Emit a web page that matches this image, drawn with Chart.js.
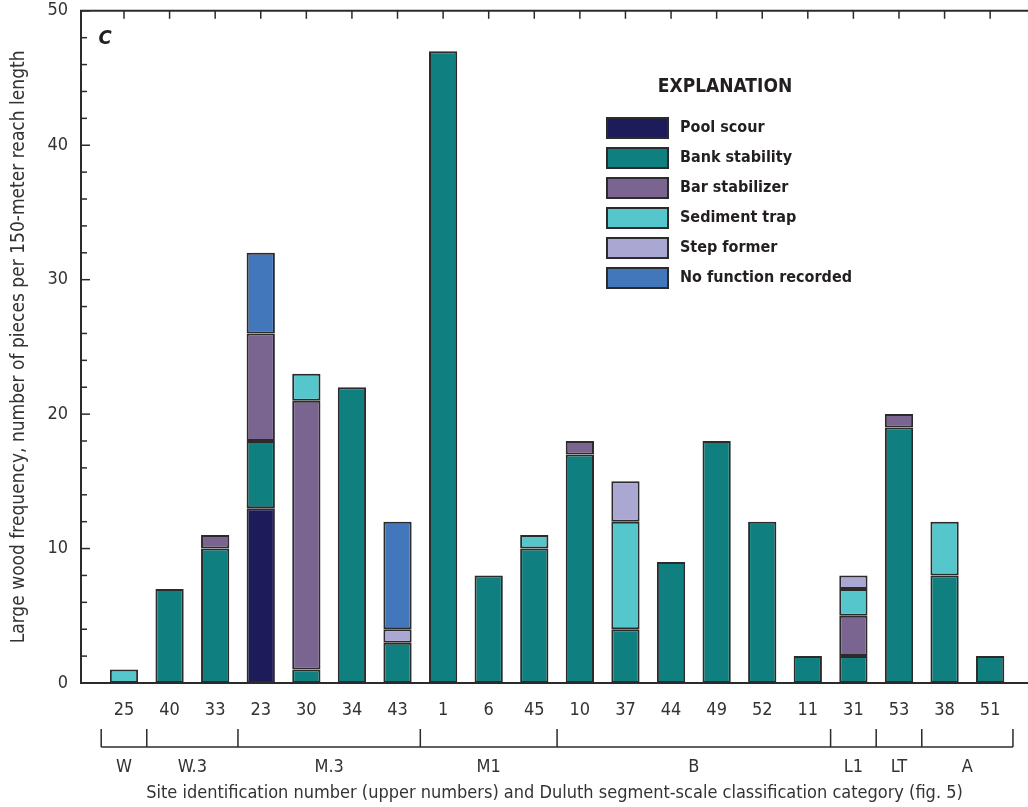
<!DOCTYPE html>
<html>
<head>
<meta charset="utf-8">
<script src="https://cdn.jsdelivr.net/npm/chart.js@4.4.1/dist/chart.umd.min.js"></script>
<style>
body { margin: 0; background: #fff; }
#wrap { width: 1028px; height: 807px; position: relative; }
</style>
</head>
<body>
<div id="wrap"><canvas id="c"></canvas></div>
<script>
// site ids (upper numbers) and Duluth segment-scale categories
var sites = ['25', '40', '33', '23', '30', '34', '43', '1', '6', '45', '10', '37', '44', '49', '52', '11', '31', '53', '38', '51'];
var groups = ['W', 'W.3', 'M.3', 'M1', 'B', 'L1', 'LT', 'A'];
var groupSizes = [1, 2, 4, 3, 6, 1, 1, 2];

// pieces per 150-meter reach, by function
var poolScour  = [0, 0, 0, 13, 0, 0, 0, 0, 0, 0, 0, 0, 0, 0, 0, 0, 0, 0, 0, 0];
var bankStab   = [0, 7, 10, 5, 1, 22, 3, 47, 8, 10, 17, 4, 9, 18, 12, 2, 2, 19, 8, 2];
var barStab    = [0, 0, 1, 8, 20, 0, 0, 0, 0, 0, 1, 0, 0, 0, 0, 0, 3, 1, 0, 0];
var sedTrap    = [1, 0, 0, 0, 2, 0, 0, 0, 0, 1, 0, 8, 0, 0, 0, 0, 2, 0, 4, 0];
var stepFormer = [0, 0, 0, 0, 0, 0, 1, 0, 0, 0, 0, 3, 0, 0, 0, 0, 1, 0, 0, 0];
var noFunction = [0, 0, 0, 6, 0, 0, 8, 0, 0, 0, 0, 0, 0, 0, 0, 0, 0, 0, 0, 0];

var FONT = "'Liberation Sans Narrow', 'DejaVu Sans Condensed', 'Liberation Sans', sans-serif";
var ink = '#2b2b2b';
var txt = '#333333';

function pts(arr) {
    return arr.map(function (v, i) { return { x: i + 1, y: v === 0 ? null : v }; });
}

function ds(label, arr, color) {
    return {
        label: label,
        data: pts(arr),
        backgroundColor: color,
        borderColor: ink,
        borderWidth: 2,
        borderSkipped: false,
        categoryPercentage: 1,
        barPercentage: 0.62
    };
}

var data = {
    datasets: [
        ds('Pool scour', poolScour, '#1e1b5a'),
        ds('Bank stability', bankStab, '#0f7f7f'),
        ds('Bar stabilizer', barStab, '#7a6490'),
        ds('Sediment trap', sedTrap, '#55c6cc'),
        ds('Step former', stepFormer, '#aaa8d2'),
        ds('No function recorded', noFunction, '#4377bc')
    ]
};

// frame ticks, category brackets, explanation box
var extras = {
    id: 'extras',
    afterDraw: function (chart) {
        var ctx = chart.ctx, x = chart.scales.x, y = chart.scales.y, a = chart.chartArea;
        ctx.save();
        ctx.strokeStyle = ink;
        ctx.lineWidth = 2;
        ctx.beginPath();
        ctx.moveTo(a.left - 1, a.top);
        ctx.lineTo(a.right, a.top);
        ctx.stroke();

        ctx.lineWidth = 1.5;
        sites.forEach(function (s, i) {
            var px = x.getPixelForValue(i + 1);
            ctx.beginPath();
            ctx.moveTo(px, a.top);
            ctx.lineTo(px, a.top + 8);
            ctx.stroke();
        });
        for (var v = 0; v <= 50; v += 2) {
            var py = y.getPixelForValue(v);
            var len = v % 10 === 0 ? 9 : 6;
            ctx.beginPath();
            ctx.moveTo(a.left, py);
            ctx.lineTo(a.left + len, py);
            ctx.stroke();
        }

        // brackets
        var lineY = a.bottom + 64, tickTop = a.bottom + 46;
        ctx.beginPath();
        ctx.moveTo(x.getPixelForValue(0.5), lineY);
        ctx.lineTo(x.getPixelForValue(sites.length + 0.5), lineY);
        ctx.stroke();
        ctx.fillStyle = txt;
        ctx.font = '18px ' + FONT;
        ctx.textAlign = 'center';
        ctx.textBaseline = 'middle';
        var pos = 0.5;
        ctx.beginPath();
        ctx.moveTo(x.getPixelForValue(pos), tickTop);
        ctx.lineTo(x.getPixelForValue(pos), lineY);
        groups.forEach(function (g, i) {
            var end = pos + groupSizes[i];
            var px = x.getPixelForValue(end);
            ctx.moveTo(px, tickTop);
            ctx.lineTo(px, lineY);
            ctx.fillText(g, x.getPixelForValue((pos + end) / 2), a.bottom + 84);
            pos = end;
        });
        ctx.stroke();

        // panel letter
        ctx.fillStyle = '#231f20';
        ctx.font = 'italic bold 20px ' + FONT;
        ctx.fillText('C', a.left + 24, a.top + 28);

        // explanation
        ctx.font = 'bold 19px ' + FONT;
        ctx.fillText('EXPLANATION', 725, 87);
        ctx.textAlign = 'left';
        ctx.font = 'bold 16px ' + FONT;
        chart.data.datasets.forEach(function (d, i) {
            var yy = 118 + i * 30;
            ctx.fillStyle = d.backgroundColor;
            ctx.fillRect(607, yy, 61, 20);
            ctx.lineWidth = 2;
            ctx.strokeRect(607, yy, 61, 20);
            ctx.fillStyle = '#231f20';
            ctx.fillText(d.label, 680, yy + 10);
        });
        ctx.restore();
    }
};

new Chart(document.getElementById('c'), {
    type: 'bar',
    data: data,
    plugins: [extras],
    options: {
        responsive: true,
        maintainAspectRatio: false,
        animation: false,
        layout: { padding: { top: 2, left: 0, right: 0, bottom: 0 } },
        plugins: {
            legend: { display: false },
            tooltip: { enabled: false }
        },
        scales: {
            x: {
                type: 'linear',
                stacked: true,
                offset: false,
                min: 0.057,
                max: 20.83,
                afterFit: function (s) { s.height = 124; },
                grid: { display: false, drawTicks: false, offset: false },
                border: { display: true, color: ink, width: 2 },
                ticks: {
                    stepSize: 1,
                    includeBounds: false,
                    autoSkip: false,
                    maxRotation: 0,
                    padding: 17,
                    color: txt,
                    font: { family: FONT, size: 18 },
                    callback: function (v) {
                        return Number.isInteger(v) ? sites[v - 1] : '';
                    }
                },
                title: {
                    display: true,
                    text: 'Site identification number (upper numbers) and Duluth segment-scale classification category (fig. 5)',
                    color: txt,
                    font: { family: FONT, size: 18 },
                    padding: { top: 0, bottom: 3 }
                }
            },
            y: {
                stacked: true,
                min: 0,
                max: 50,
                afterFit: function (s) { s.width = 81; },
                grid: { display: false, drawTicks: true, tickLength: 13 },
                border: { display: true, color: ink, width: 2 },
                ticks: {
                    stepSize: 10,
                    padding: 0,
                    color: txt,
                    font: { family: FONT, size: 18 }
                },
                title: {
                    display: true,
                    text: 'Large wood frequency, number of pieces per 150-meter reach length',
                    color: txt,
                    font: { family: FONT, size: 19 },
                    padding: { top: 8, bottom: 0 }
                }
            }
        }
    }
});
</script>
</body>
</html>
